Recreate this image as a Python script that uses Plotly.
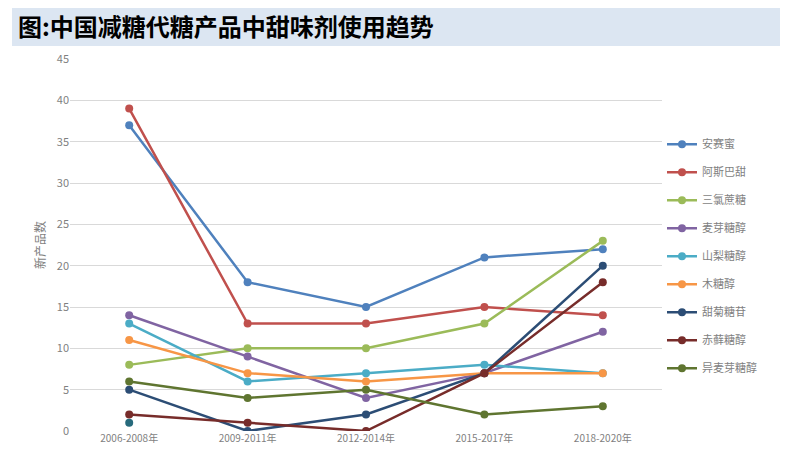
import plotly.graph_objects as go

periods = ["2006-2008年", "2009-2011年", "2012-2014年", "2015-2017年", "2018-2020年"]

names = ["安赛蜜", "阿斯巴甜", "三氯蔗糖", "麦芽糖醇", "山梨糖醇",
         "木糖醇", "甜菊糖苷", "赤藓糖醇", "异麦芽糖醇"]

acesulfame = [37, 18, 15, 21, 22]
aspartame = [39, 13, 13, 15, 14]
sucralose = [8, 10, 10, 13, 23]
maltitol = [14, 9, 4, 7, 12]
sorbitol = [13, 6, 7, 8, 7]
xylitol = [11, 7, 6, 7, 7]
stevia = [5, 0, 2, 7, 20]
erythritol = [2, 1, 0, 7, 18]
isomalt = [6, 4, 5, 2, 3]

# stray point visible at the first period
extra_x = ["2006-2008年"]
extra_y = [1]

series = [acesulfame, aspartame, sucralose, maltitol, sorbitol,
          xylitol, stevia, erythritol, isomalt]
colors = ["#4f81bd", "#c0504d", "#9bbb59", "#8064a2", "#4bacc6",
          "#f79646", "#2c4d75", "#772c2a", "#5f7530"]

fig = go.Figure()

fig.add_trace(go.Scatter(
    x=extra_x, y=extra_y, mode="markers",
    marker=dict(color="#276a7c", size=8),
    showlegend=False, hoverinfo="skip"
))

for name, vals, color in zip(names, series, colors):
    fig.add_trace(go.Scatter(
        x=periods, y=vals, name=name, legendgroup=name,
        mode="lines+markers",
        line=dict(color=color, width=2.5),
        marker=dict(color=color, size=8)
    ))

fig.update_layout(
    width=780, height=459,
    margin=dict(l=62, r=126, t=51, b=36),
    plot_bgcolor="white",
    paper_bgcolor="white",
    font=dict(family="Noto Sans CJK SC", color="#7f7f7f", size=11),
    legend=dict(
        x=1.0, y=0.81, xanchor="left", yanchor="top",
        font=dict(size=11, color="#7f7f7f"),
        tracegroupgap=9, itemwidth=30,
        traceorder="grouped"
    ),
    shapes=[dict(
        type="rect", xref="paper", yref="paper",
        x0=-0.098, x1=1.228, y0=1.035, y1=1.148,
        fillcolor="#dce6f2", line=dict(width=0), layer="below"
    )],
    annotations=[dict(
        text="<b>图:中国减糖代糖产品中甜味剂使用趋势</b>",
        xref="paper", yref="paper", x=-0.092, y=1.09,
        xanchor="left", yanchor="middle", showarrow=False,
        font=dict(size=24, color="black", family="Noto Sans CJK SC")
    )]
)

fig.update_xaxes(
    type="category", categoryorder="array", categoryarray=periods,
    range=[-0.5, 4.5], showgrid=False, showline=False, ticks="",
    tickfont=dict(size=10, color="#7f7f7f")
)
fig.update_yaxes(
    range=[0, 45], dtick=5, showgrid=True, gridcolor="#d9d9d9", gridwidth=1,
    zeroline=False, showline=False, ticks="",
    tickfont=dict(size=11, color="#7f7f7f"),
    title=dict(text="新产品数", font=dict(size=12, color="#7f7f7f"), standoff=8)
)

fig.write_html("out.html")
